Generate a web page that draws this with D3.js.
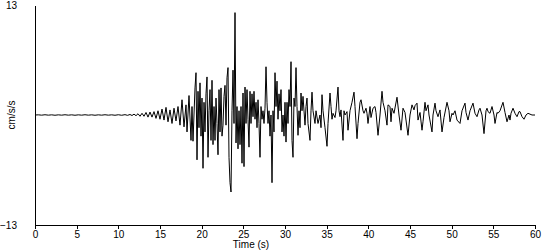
<!DOCTYPE html>
<html>
<head>
<meta charset="utf-8">
<script src="https://cdn.jsdelivr.net/npm/d3@7"></script>
<style>
    body { margin: 0; background: #ffffff; }
    text { font-family: "Liberation Sans", Arial, sans-serif; font-size: 10px; fill: #000000; }
</style>
</head>
<body>
<div id="chart"></div>
<script>
// acceleration record, [time (s), cm/s/s]
const preEvent = [
    [0, 0], [0.4, 0.02], [0.8, -0.02], [1.2, 0.03], [1.6, -0.02], [2.0, 0.02], [2.4, -0.03], [2.8, 0.02],
    [3.2, -0.02], [3.6, 0.03], [4.0, -0.02], [4.4, 0.02], [4.8, -0.03], [5.2, 0.02], [5.6, -0.02], [6.0, 0.03],
    [6.4, -0.02], [6.8, 0.02], [7.2, -0.03], [7.6, 0.02], [8.0, -0.02], [8.4, 0.03], [8.8, -0.02], [9.2, 0.02],
    [9.6, -0.03], [10.0, 0.03], [10.4, -0.03], [10.8, 0.04], [11.1, -0.04]
]

const onset = [
    [11.40, 0.06], [11.64, -0.06], [11.88, 0.1], [12.12, -0.08], [12.36, 0.15], [12.60, -0.15], [12.84, 0.2],
    [13.08, -0.15], [13.32, 0.3], [13.56, -0.25], [13.80, 0.35], [14.04, -0.25], [14.28, 0.4], [14.52, -0.4],
    [14.76, 0.5], [15.00, -0.5], [15.24, 0.7], [15.48, -0.6], [15.72, 0.9], [15.96, -0.8], [16.20, 0.6],
    [16.44, -1.0], [16.68, 0.8], [16.92, -0.7], [17.16, 1.0], [17.40, -1.2], [17.64, 1.8], [17.88, -1.4],
    [18.12, 1.2], [18.24, -2.0], [18.48, 2.3], [18.72, -3.0], [18.84, 1.0], [18.96, -3.1], [19.20, 3.2],
    [19.32, 5.0], [19.44, -5.3], [19.56, 2.8], [19.68, -1.5], [19.80, 3.8], [19.92, -2.5]
]

const strongMotion = [
    [20.04, 2.0], [20.16, -6.3], [20.28, 1.5], [20.40, -2.0], [20.52, 2.5], [20.64, 4.5], [20.76, -5.0],
    [20.88, 0.5], [21.00, 3.0], [21.12, -3.0], [21.24, 4.1], [21.36, -3.5], [21.48, 1.0], [21.60, -3.0],
    [21.72, 2.0], [21.84, -1.0], [21.96, -4.7], [22.08, 3.0], [22.20, -2.0], [22.32, 3.2], [22.44, -2.5],
    [22.56, -1.2], [22.68, 2.2], [22.80, 3.5], [22.92, -1.2], [23.04, 4.4], [23.16, 5.6], [23.28, -5.0],
    [23.40, -8.0], [23.52, -9.1], [23.64, 0.5], [23.76, 5.3], [23.88, -1.0], [24.00, 12.1], [24.12, -3.3],
    [24.24, 1.0], [24.36, -4.0], [24.48, 0.5], [24.60, -3.5], [24.72, 1.0], [24.84, -5.7], [24.96, 2.6],
    [25.08, -6.1], [25.20, 3.3], [25.32, -1.0], [25.44, 3.0], [25.56, -0.5], [25.68, -3.8], [25.80, 2.8],
    [25.92, -1.0], [26.04, 2.5], [26.16, -0.2], [26.28, 2.8], [26.40, -0.5], [26.52, 1.5], [26.64, -1.5],
    [26.76, 1.8], [26.88, -1.0], [27.00, -5.0], [27.12, 1.0], [27.24, -0.5], [27.36, 0.5], [27.48, -1.0],
    [27.60, 0.8], [27.72, 5.7], [27.84, 1.5], [27.96, -1.0], [28.08, 0.5], [28.20, -2.5], [28.32, 0.0],
    [28.44, -8.0], [28.56, 0.5], [28.68, -2.0], [28.80, 5.0], [28.92, 1.0], [29.04, 4.0], [29.16, -0.5],
    [29.28, 2.5], [29.40, 0.5], [29.52, 3.0], [29.64, -2.0], [29.76, 0.0], [29.88, -2.5], [30.00, 1.5],
    [30.12, -3.2], [30.24, 1.5], [30.36, -1.0], [30.48, 3.0], [30.60, 1.0], [30.72, 6.3], [30.84, -3.0],
    [30.96, -5.0], [31.08, 2.0], [31.20, 1.0], [31.32, 5.6], [31.44, 1.0], [31.56, -2.4], [31.68, 0.5],
    [31.80, -1.5], [31.92, 2.6], [32.04, 0.5], [32.16, 2.2]
]

const coda = [
    [32.40, -1.2], [32.52, 1.0], [32.64, 2.0], [32.76, -1.0], [33.00, -3.0], [33.12, 0.5], [33.24, 2.7],
    [33.36, 0.5], [33.60, -1.0], [33.72, 0.5], [33.96, -1.0], [34.20, 0.0], [34.32, -1.5], [34.44, 2.4],
    [34.56, 0.5], [34.80, -1.5], [35.04, -3.7], [35.16, -1.0], [35.40, 2.6], [35.52, 1.0], [35.64, -0.5],
    [35.76, 0.2], [36.00, -0.3], [36.12, 0.5], [36.36, 3.3], [36.48, 0.5], [36.60, -0.2], [36.72, 0.6],
    [36.96, -3.0], [37.08, 0.5], [37.20, 0.0], [37.44, 0.4], [37.56, -1.8], [37.80, 0.5], [38.04, 1.5],
    [38.28, 2.7], [38.40, 1.0], [38.64, -2.8], [38.76, -1.0], [39.00, 1.5], [39.12, 1.8], [39.36, 0.5],
    [39.48, 0.2], [39.72, 0.8], [39.84, 0.2], [39.96, -1.0], [40.20, 1.0], [40.32, -0.3], [40.56, 0.8],
    [40.80, 1.0], [40.92, 0.3], [41.16, -2.4], [41.40, 0.0], [41.64, 2.8], [41.76, 1.5], [42.00, 0.5],
    [42.24, -1.2], [42.36, 1.2], [42.60, 1.0], [42.72, -0.8], [42.84, 0.8], [43.08, 0.2], [43.44, 2.1],
    [43.68, 0.0], [43.92, -1.8], [44.16, 0.8], [44.40, 0.3], [44.76, -2.4], [45.00, 0.0], [45.24, 1.2],
    [45.48, 0.6], [45.60, 1.1], [45.84, 1.4], [45.96, -0.6], [46.20, 0.3], [46.44, -1.8], [46.56, -0.8],
    [46.80, 1.5], [46.92, 0.5], [47.16, 1.2], [47.28, 0.0], [47.64, -2.0], [47.76, 0.0], [48.00, 1.4],
    [48.12, 0.5], [48.36, -0.2], [48.60, 0.6], [48.84, -2.0], [49.08, -0.3], [49.44, 1.5], [49.68, 0.5],
    [49.80, -0.8], [50.04, 0.2], [50.16, 0.0], [50.40, 0.5], [50.64, -0.6], [51.00, -1.0], [51.24, 0.5],
    [51.60, 1.4], [51.72, 0.3], [51.96, -0.6], [52.20, 0.5], [52.56, 1.4], [52.80, 0.2], [53.04, -0.2],
    [53.28, 0.6], [53.40, 0.8], [53.64, 0.0], [53.88, -2.2], [54.12, 0.5], [54.24, 0.8], [54.36, 0.4],
    [54.60, 0.2], [54.84, 1.0], [55.08, 0.0], [55.20, -1.0], [55.44, 0.3], [55.56, 0.2], [55.80, 0.5],
    [56.16, 1.5], [56.40, 0.3], [56.64, -0.8], [56.88, 0.0], [57.00, -0.6], [57.12, 0.2], [57.36, 0.8],
    [57.60, 0.2], [57.84, -0.2], [58.08, 0.4], [58.20, 0.4], [58.44, -0.2], [58.68, -0.5], [58.92, 0.0],
    [59.16, 0.2], [59.40, 0.1], [59.64, 0.0], [60.00, 0.0]
]

const xTickValues = [0, 5, 10, 15, 20, 25, 30, 35, 40, 45, 50, 55, 60]
const yLimits = [-13, 13]

const record = preEvent.concat(onset, strongMotion, coda)

const margin = { top: 5, right: 15, bottom: 25, left: 35 },
    width = 550 - margin.left - margin.right,
    height = 250 - margin.top - margin.bottom;

const svg = d3.select("#chart")
    .append("svg")
    .attr("width", width + margin.left + margin.right)
    .attr("height", height + margin.top + margin.bottom)
    .append("g")
    .attr("transform", `translate(${margin.left},${margin.top})`);

let x = d3.scaleLinear()
    .domain([0, 60])
    .range([0, width]);

let y = d3.scaleLinear()
    .domain(yLimits)
    .range([height, 0]);

let xTicks = svg.append("g")
    .attr("transform", "translate(0," + height + ")")
    .call(d3.axisBottom(x)
        .tickValues(xTickValues)
        .tickSize(4)
        .tickSizeOuter(0)
        .tickPadding(2)
    );

xTicks.select(".domain").attr("stroke", "#000").attr("shape-rendering", "crispEdges")
xTicks.selectAll(".tick line").attr("stroke", "#000").attr("shape-rendering", "crispEdges")
xTicks.selectAll("text")
    .attr("font-size", "10px")
    .attr("font-family", "Liberation Sans, Arial, sans-serif")
    .attr("fill", "#000")

// y axis: plain line, only the two end values labelled
let yTicks = svg.append("g")
    .call(d3.axisLeft(y)
        .tickValues(yLimits)
        .tickSize(0)
        .tickPadding(18)
    );

yTicks.select(".domain").attr("stroke", "#000").attr("shape-rendering", "crispEdges")
yTicks.selectAll("text")
    .attr("font-size", "10px")
    .attr("font-family", "Liberation Sans, Arial, sans-serif")
    .attr("fill", "#000")

svg.append("path")
    .datum(record)
    .attr("fill", "none")
    .attr("stroke", "#000000")
    .attr("stroke-width", 1)
    .attr("stroke-linejoin", "miter")
    .attr("d", d3.line()
        .x(function (d) { return x(d[0]) })
        .y(function (d) { return y(d[1]) })
    )

svg.append("text")
    .attr("x", 216)
    .attr("y", height + 23)
    .attr("text-anchor", "middle")
    .text("Time (s)")

svg.append("text")
    .attr("transform", `translate(${-20},${y(0)}) rotate(-90)`)
    .attr("text-anchor", "middle")
    .text("cm/s/s")
</script>
</body>
</html>
